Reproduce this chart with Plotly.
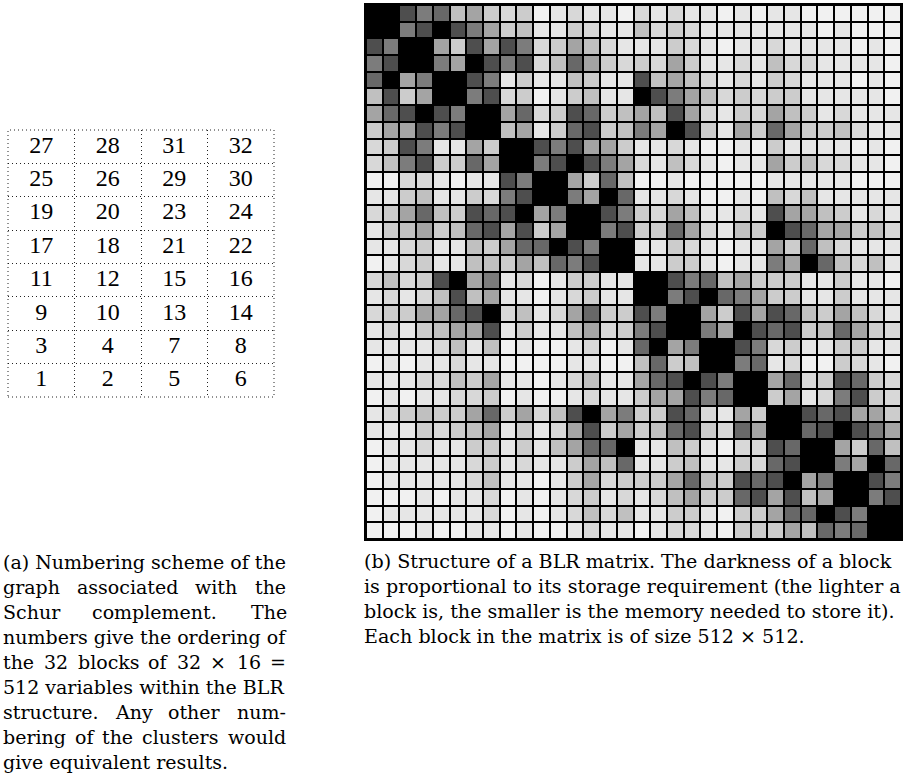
import plotly.graph_objects as go

W, H = 906, 778

# 32x32 BLR block matrix: storage level per block (0 = lightest, 9 = full rank / black)
blr_levels = [
    [9,9,8,6,7,4,5,3,2,3,0,1,2,1,1,0, 2,1,2,1,1,0,1,0,1,1,0,0,0,0,0,0],
    [9,9,6,8,9,8,6,5,3,4,1,1,3,2,1,1, 4,2,3,2,1,1,1,1,1,1,1,0,1,0,0,0],
    [8,6,9,9,5,3,8,5,8,6,2,3,5,4,2,1, 1,1,3,2,1,0,1,1,2,1,1,1,1,0,1,0],
    [6,8,9,9,6,5,9,8,6,8,2,4,7,5,3,2, 3,2,5,3,1,1,2,1,4,2,2,1,1,1,1,0],
    [7,9,5,6,9,9,8,6,1,3,1,1,4,3,1,1, 8,4,5,4,2,1,2,1,3,2,1,1,1,0,1,0],
    [4,8,3,5,9,9,6,8,2,3,0,1,3,4,1,1, 9,8,6,5,4,2,3,2,3,3,1,1,1,1,1,0],
    [5,7,8,9,8,6,9,9,5,7,2,3,8,7,3,4, 5,4,8,5,2,1,3,2,5,4,3,1,2,1,1,1],
    [3,5,5,8,6,8,9,9,4,5,1,3,7,8,3,4, 6,5,9,8,3,1,5,3,7,5,3,3,4,2,1,1],
    [2,3,8,6,1,1,5,3,9,9,8,6,8,5,5,3, 1,1,2,1,0,0,1,0,3,1,1,1,1,0,1,0],
    [2,4,6,8,3,3,7,5,9,9,6,8,9,8,6,5, 2,1,4,2,1,0,1,1,5,3,4,2,2,1,1,0],
    [0,0,2,2,1,0,1,1,8,6,9,9,5,3,7,4, 0,0,1,0,0,0,0,0,1,1,1,1,1,0,0,0],
    [1,1,3,4,1,1,3,2,6,8,9,9,6,5,9,7, 1,1,2,1,0,0,1,0,4,2,4,1,1,1,1,1],
    [2,3,5,7,4,3,8,7,8,9,5,6,9,9,8,6, 3,2,5,4,1,1,2,1,8,5,5,4,3,1,2,1],
    [1,3,4,5,3,4,7,8,5,8,3,5,9,9,6,8, 3,3,7,5,2,1,4,3,9,8,7,5,5,3,4,2],
    [1,1,2,3,1,1,4,3,5,7,7,9,8,6,9,9, 1,1,3,2,1,0,1,1,5,3,7,4,2,1,1,1],
    [0,1,2,3,1,1,4,4,3,5,4,7,6,8,9,9, 1,1,3,3,1,0,1,1,6,5,9,7,4,2,4,1],
    [2,4,2,3,8,9,5,6,1,2,0,1,3,3,1,1, 9,9,8,6,7,4,5,3,3,3,1,1,3,1,1,0],
    [1,2,1,2,4,8,4,5,1,1,0,1,2,3,1,1, 9,9,6,8,9,7,6,5,3,3,1,1,3,1,1,1],
    [2,3,3,5,5,7,8,9,2,4,1,2,5,7,3,3, 8,6,9,9,5,3,8,5,8,7,4,3,5,4,2,1],
    [1,2,1,3,4,5,5,8,1,3,1,1,4,5,2,3, 6,8,9,9,6,5,9,8,7,8,3,4,7,5,3,2],
    [1,1,1,1,2,4,1,4,0,1,0,0,1,2,0,1, 7,9,5,6,9,9,8,6,2,3,1,1,3,3,1,1],
    [0,1,0,1,1,2,1,1,0,0,0,0,1,1,0,0, 4,7,3,4,9,9,6,7,1,2,0,0,3,2,1,0],
    [1,1,1,2,2,4,3,5,1,1,0,1,2,4,1,1, 5,7,8,9,8,6,9,9,5,7,2,3,8,7,3,2],
    [0,1,0,1,1,2,2,3,0,1,0,0,1,2,1,1, 3,5,5,8,6,7,9,9,3,5,1,2,6,8,3,2],
    [1,2,3,4,3,3,5,7,3,5,2,4,8,9,5,6, 3,3,8,7,2,1,5,3,9,9,8,7,8,5,5,3],
    [1,1,1,3,2,3,4,5,1,3,1,2,5,8,3,5, 3,4,7,8,3,2,7,5,9,9,7,8,9,8,6,5],
    [0,1,1,2,1,1,3,3,1,3,1,4,5,7,7,9, 1,1,4,3,1,0,2,2,8,7,9,9,5,3,7,4],
    [0,1,1,1,1,1,2,3,1,2,1,1,3,5,4,7, 1,1,3,4,1,1,3,2,7,8,9,9,6,5,9,7],
    [0,1,1,1,1,1,2,4,1,1,0,1,3,5,2,3, 3,3,5,7,4,3,8,7,8,9,5,6,9,9,8,6],
    [0,0,0,1,0,1,1,2,0,1,0,1,2,3,1,2, 1,2,4,5,3,3,7,8,5,8,4,5,9,9,6,8],
    [0,1,1,1,1,1,1,2,0,1,0,1,2,4,2,4, 1,1,3,3,1,0,3,3,5,7,7,9,8,6,9,9],
    [0,0,0,1,0,0,1,1,0,1,0,0,1,2,1,1, 0,1,2,2,1,0,3,3,3,5,4,7,6,7,9,9],
]

# gray value used for each storage level
level_grays = [241, 230, 216, 204, 192, 164, 124, 104, 78, 0]

# numbering scheme table (top row first)
numbering_rows = [
    [27, 28, 31, 32],
    [25, 26, 29, 30],
    [19, 20, 23, 24],
    [17, 18, 21, 22],
    [11, 12, 15, 16],
    [9, 10, 13, 14],
    [3, 4, 7, 8],
    [1, 2, 5, 6],
]

caption_a = [
    "(a) Numbering scheme of the",
    "graph associated with the",
    "Schur complement. The",
    "numbers give the ordering of",
    "the 32 blocks of 32 × 16 =",
    "512 variables within the BLR",
    "structure. Any other num-",
    "bering of the clusters would",
    "give equivalent results.",
]
caption_b = [
    "(b) Structure of a BLR matrix. The darkness of a block",
    "is proportional to its storage requirement (the lighter a",
    "block is, the smaller is the memory needed to store it).",
    "Each block in the matrix is of size 512 × 512.",
]

# word start positions (px from the caption's left edge) for justified lines of caption (a)
a_justify = {
    1: [0, 74, 192, 252],
    2: [0, 89, 248],
    4: [0, 41, 75, 145, 174, 207, 234, 267],
    6: [0, 112, 165, 234],
    7: [0, 72, 99, 139, 225],
}


def px_x(x):
    return x / W


def px_y(y):
    return 1 - y / H


n = len(blr_levels)
nlev = len(level_grays)
colorscale = [[k / (nlev - 1), f"rgb({g},{g},{g})"] for k, g in enumerate(level_grays)]

fig = go.Figure()
fig.add_trace(go.Heatmap(
    z=blr_levels, x=list(range(n)), y=list(range(n)),
    zmin=0, zmax=nlev - 1, colorscale=colorscale, showscale=False,
    xgap=2, ygap=2, hoverinfo="skip", xaxis="x", yaxis="y",
))

nr = len(numbering_rows)
nc = len(numbering_rows[0])
tx, ty, tt = [], [], []
for i, row in enumerate(numbering_rows):
    for j, v in enumerate(row):
        tx.append(j + 0.5)
        ty.append(nr - 1 - i + 0.5)
        tt.append(str(v))
fig.add_trace(go.Scatter(
    x=tx, y=ty, text=tt, mode="text", xaxis="x2", yaxis="y2",
    textfont=dict(family="Liberation Serif", size=24, color="black"),
    hoverinfo="skip", showlegend=False,
))

cap_font_a = dict(family="DejaVu Serif", size=19, color="black")
cap_font_b = dict(family="DejaVu Serif", size=19.1, color="black")
line_h = 25.0
first_mid = 561.5
a_left = 1
annotations = []
for k, line in enumerate(caption_a):
    yk = px_y(first_mid + k * line_h)
    if k in a_justify:
        for word, xo in zip(line.split(" "), a_justify[k]):
            annotations.append(dict(
                x=px_x(a_left + xo), y=yk, xref="paper", yref="paper",
                xanchor="left", yanchor="middle", showarrow=False, text=word,
                font=cap_font_a,
            ))
    else:
        annotations.append(dict(
            x=px_x(a_left), y=yk, xref="paper", yref="paper",
            xanchor="left", yanchor="middle", showarrow=False, text=line,
            font=cap_font_a,
        ))
for k, line in enumerate(caption_b):
    annotations.append(dict(
        x=px_x(362), y=px_y(first_mid + k * line_h), xref="paper", yref="paper",
        xanchor="left", yanchor="middle", showarrow=False, text=line,
        font=cap_font_b,
    ))

dotted = "1px,3px"
fig.update_layout(
    width=W, height=H, margin=dict(l=0, r=0, t=0, b=0),
    paper_bgcolor="white", plot_bgcolor="black", showlegend=False,
    xaxis=dict(domain=[px_x(366), px_x(901)], range=[-0.5, n - 0.5],
               showticklabels=False, ticks="", showgrid=False, zeroline=False,
               showline=True, linecolor="black", linewidth=2, mirror=True),
    yaxis=dict(domain=[px_y(539), px_y(5)], range=[n - 0.5, -0.5],
               showticklabels=False, ticks="", showgrid=False, zeroline=False,
               showline=True, linecolor="black", linewidth=2, mirror=True),
    xaxis2=dict(domain=[px_x(8), px_x(274)], range=[0, nc],
                tickvals=list(range(1, nc)), showticklabels=False, ticks="",
                showgrid=True, griddash=dotted, gridcolor="#222", gridwidth=1,
                zeroline=False, showline=False, anchor="y2"),
    yaxis2=dict(domain=[px_y(397), px_y(130)], range=[0, nr],
                tickvals=list(range(1, nr)), showticklabels=False, ticks="",
                showgrid=True, griddash=dotted, gridcolor="#222", gridwidth=1,
                zeroline=False, showline=False, anchor="x2"),
    annotations=annotations,
)
# white background and dotted outer border for the numbering table
fig.add_shape(type="rect", xref="x2 domain", yref="y2 domain", x0=0, x1=1, y0=0, y1=1,
              fillcolor="white", line=dict(width=0), layer="below")
fig.add_shape(type="rect", xref="x2 domain", yref="y2 domain", x0=0, x1=1, y0=0, y1=1,
              fillcolor="rgba(0,0,0,0)", line=dict(width=1, color="#222", dash=dotted),
              layer="above")

# place the figure at the page's top-left corner (no default body margin)
fig.write_html("out.html", config={"displayModeBar": False},
               post_script="document.body.style.margin='0';document.body.style.overflow='hidden';")
